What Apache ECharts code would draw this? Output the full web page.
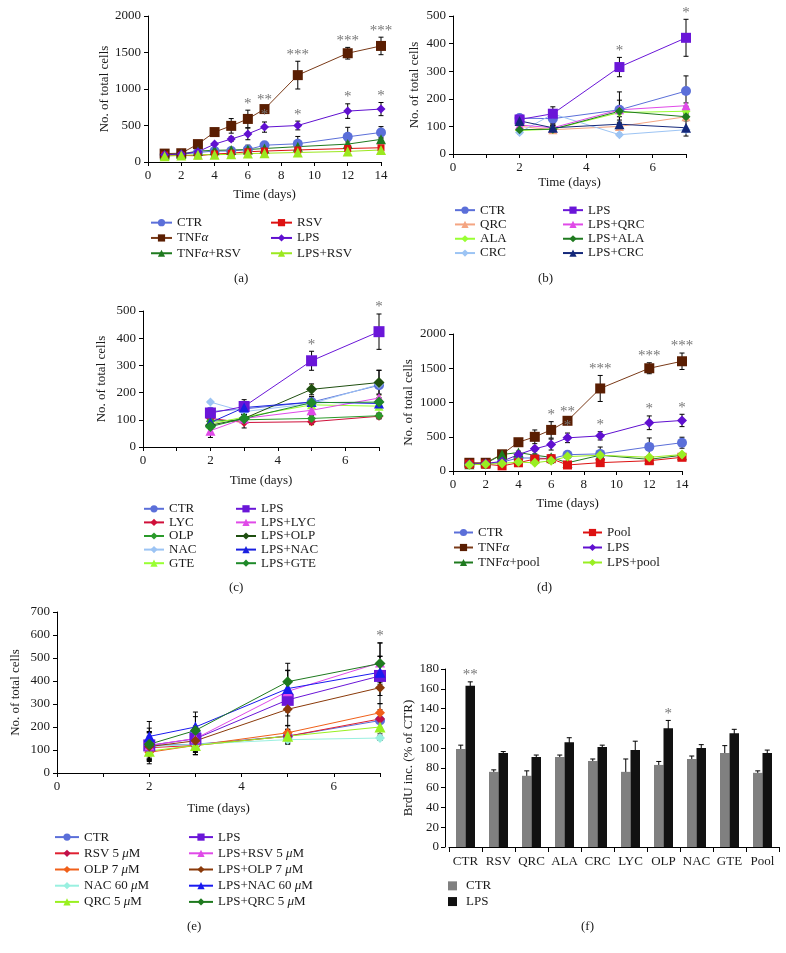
<!DOCTYPE html>
<html><head><meta charset="utf-8">
<script src="https://cdn.jsdelivr.net/npm/echarts@6/dist/echarts.min.js"></script>
<style>html,body{margin:0;padding:0;background:#fff}#c{width:786px;height:953px}</style>
</head><body><div id="c"></div>
<script>
// ---------- Panel (a) ----------
const daysA = [1,2,3,4,5,6,7,9,12,14];
const aCTR = [100,105,130,150,150,170,230,250,345,405];
const aCTRErr = [10,15,20,25,40,60,40,100,130,80];
const aTNF = [115,120,245,410,495,590,725,1190,1490,1590];
const aTNFErr = [20,20,30,30,100,120,30,190,80,120];
const aTNFRSV = [100,110,150,160,165,170,185,210,245,310];
const aTNFRSVErr = [10,10,20,20,20,20,20,20,30,30];
const aRSV = [95,90,85,110,120,140,150,165,185,195];
const aRSVErr = [10,10,10,15,15,15,15,20,20,20];
const aLPS = [100,110,140,245,315,385,478,500,697,725];
const aLPSErr = [10,10,20,20,30,80,70,60,100,90];
const aLPSRSV = [80,90,100,100,105,115,120,130,145,165];
const aLPSRSVErr = [10,10,10,10,15,15,15,15,20,20];
const aStarsTNF = ['','','','','','*','**','***','***','***'];
const aStarsLPS = ['','','','','','','*','*','*','*'];

// ---------- Panel (b) ----------
const daysB = [2,3,5,7];
const bCTR = [130,128,160,228];     const bCTRErr = [10,25,65,55];
const bQRC = [100,88,100,135];      const bQRCErr = [10,10,10,10];
const bALA = [85,90,150,155];       const bALAErr = [5,10,15,10];
const bCRC = [78,145,70,88];        const bCRCErr = [5,10,5,5];
const bLPS = [125,146,315,421];     const bLPSErr = [10,25,35,67];
const bLPSQRC = [105,95,160,175];   const bLPSQRCErr = [10,10,10,10];
const bLPSALA = [88,90,155,135];    const bLPSALAErr = [10,15,40,15];
const bLPSCRC = [120,95,108,95];    const bLPSCRCErr = [10,15,15,30];
const bStarsLPS = ['','','*','*'];

// ---------- Panel (c) ----------
const daysC = [2,3,5,7];
const cCTR = [130,140,165,227];     const cCTRErr = [10,20,20,55];
const cLYC = [105,90,93,113];       const cLYCErr = [10,20,10,10];
const cOLP = [95,100,105,115];      const cOLPErr = [10,10,10,10];
const cNAC = [165,130,160,230];     const cNACErr = [5,10,15,15];
const cGTE = [85,110,155,150];      const cGTEErr = [10,15,75,40];
const cLPS = [125,149,317,424];     const cLPSErr = [15,25,35,65];
const cLPSLYC = [60,105,135,180];   const cLPSLYCErr = [25,15,15,15];
const cLPSOLP = [80,105,212,237];   const cLPSOLPErr = [10,15,20,45];
const cLPSNAC = [90,145,165,160];   const cLPSNACErr = [10,15,20,20];
const cLPSGTE = [75,105,163,165];   const cLPSGTEErr = [10,15,15,15];
const cStarsLPS = ['','','*','*'];

// ---------- Panel (d) ----------
const daysD = [1,2,3,4,5,6,7,9,12,14];
const dCTR = [100,100,130,190,190,180,238,250,352,413];
const dCTRErr = [10,10,20,30,40,60,40,100,130,80];
const dTNF = [120,120,244,420,499,600,733,1205,1500,1602];
const dTNFErr = [20,20,30,30,100,120,30,190,80,120];
const dTNFpool = [100,110,240,270,230,200,120,230,170,230];
const dTNFpoolErr = [10,10,20,20,20,20,20,20,20,20];
const dPool = [100,100,75,120,175,180,88,122,150,200];
const dPoolErr = [10,10,10,15,15,15,15,20,20,20];
const dLPS = [100,110,140,240,323,386,484,513,704,738];
const dLPSErr = [10,10,20,20,30,80,70,60,100,90];
const dLPSpool = [90,100,110,130,120,150,210,230,200,240];
const dLPSpoolErr = [10,10,10,10,15,40,15,15,20,20];
const dStarsTNF = ['','','','','','*','**','***','***','***'];
const dStarsLPS = ['','','','','','','*','*','*','*'];

// ---------- Panel (e) ----------
const daysE = [2,3,5,7];
const eCTR = [120,125,160,228];     const eCTRErr = [55,45,30,35];
const eRSV = [110,120,160,235];     const eRSVErr = [50,40,30,40];
const eOLP = [90,120,175,262];      const eOLPErr = [50,40,30,40];
const eNAC = [115,125,145,152];     const eNACErr = [40,35,20,10];
const eQRC = [95,120,160,200];      const eQRCErr = [45,40,25,30];
const eLPS = [120,149,318,422];     const eLPSErr = [60,55,70,85];
const eLPSRSV = [120,150,355,480];  const eLPSRSVErr = [60,50,90,85];
const eLPSOLP = [115,140,277,371];  const eLPSOLPErr = [60,50,70,70];
const eLPSNAC = [159,200,367,438];  const eLPSNACErr = [65,65,80,70];
const eLPSQRC = [125,185,397,476];  const eLPSQRCErr = [70,60,80,90];
const eStarsLPSRSV = ['','','','*'];

// ---------- Panel (f) ----------
const fCats = ['CTR','RSV','QRC','ALA','CRC','LYC','OLP','NAC','GTE','Pool'];
const fCTR = [99,76,72,91,87,76,83,89,95,75];
const fCTRErr = [4,2,5,2,2,13,3.5,3,7.5,2];
const fLPS = [163,95,91,106,101,98,120,100,115,95];
const fLPSErr = [4,1.5,2,4.5,2,9,8,3.5,4,3];
const fStarsLPS = ['**','','','','','','*','','',''];

// ================= builders =================
const FONT = '"Liberation Serif", "Times New Roman", serif';
const grids = [], xAxes = [], yAxes = [], series = [], legends = [], titles = [];
const TXT = '#1a1a1a';

function axisCommon() {
  return {
    axisLine: {show: true, onZero: false, lineStyle: {color: '#000', width: 1}},
    axisTick: {show: true, inside: false, length: 4, lineStyle: {color: '#000', width: 1}},
    splitLine: {show: false},
    nameTextStyle: {fontFamily: FONT, fontSize: 13, color: TXT},
  };
}

function addPanel(p) {
  const gi = grids.length;
  grids.push({left: p.left, top: p.top, width: p.width, height: p.height, containLabel: false, outerBoundsMode: 'none'});
  xAxes.push(Object.assign(axisCommon(), {
    gridIndex: gi, type: 'value', min: 0, max: p.xMax, interval: p.xInterval,
    name: 'Time (days)', nameLocation: 'middle', nameGap: p.xNameGap,
    axisLabel: {margin: 7, color: TXT, fontFamily: FONT, fontSize: 13,
      formatter: v => (v % p.xLabelEvery === 0 ? String(v) : '')}
  }));
  yAxes.push(Object.assign(axisCommon(), {
    gridIndex: gi, type: 'value', min: 0, max: p.yMax, interval: p.yInterval,
    name: 'No. of total cells', nameLocation: 'middle', nameGap: p.yNameGap, nameRotate: 90,
    axisLabel: {margin: 7, color: TXT, fontFamily: FONT, fontSize: 13, formatter: v => String(v)}
  }));
  return gi;
}

function errSeries(gi, data, color, cap, dx) {
  color = color || '#000'; cap = cap || 2.5; dx = dx || 0;
  return {
    type: 'custom', xAxisIndex: gi, yAxisIndex: gi, data: data, silent: true, z: 2, clip: false,
    encode: {x: 0, y: 1},
    renderItem: function (params, api) {
      const x = api.value(0), y = api.value(1), e = api.value(2);
      const t = api.coord([x, y + e]), b = api.coord([x, y - e]);
      const tx = t[0] + dx;
      const st = {stroke: color, lineWidth: 1};
      return {type: 'group', children: [
        {type: 'line', shape: {x1: tx, y1: t[1], x2: tx, y2: b[1]}, style: st},
        {type: 'line', shape: {x1: tx - cap, y1: t[1], x2: tx + cap, y2: t[1]}, style: st},
        {type: 'line', shape: {x1: tx - cap, y1: b[1], x2: tx + cap, y2: b[1]}, style: st}
      ]};
    }
  };
}

function starSeries(gi, xs, vals, errs, stars, dx) {
  dx = dx || 0;
  const items = [];
  xs.forEach((d, i) => { if (stars[i]) items.push([d, vals[i] + errs[i], i]); });
  return {
    type: 'custom', xAxisIndex: gi, yAxisIndex: gi, data: items, silent: true, clip: false, z: 5,
    encode: {x: 0, y: 1},
    renderItem: function (params, api) {
      const p = api.coord([api.value(0), api.value(1)]);
      return {type: 'text', x: p[0] + dx, y: p[1] + 1,
        style: {text: stars[api.value(2)], fill: '#777', font: '15px ' + FONT,
          align: 'center', verticalAlign: 'bottom', textAlign: 'center', textVerticalAlign: 'bottom'}};
    }
  };
}

function addLine(gi, id, d, days) {
  const name = id + ':' + d.label;
  series.push({
    type: 'line', name: name, xAxisIndex: gi, yAxisIndex: gi,
    data: days.map((x, i) => [x, d.vals[i]]),
    symbol: d.symbol, symbolSize: d.size, showSymbol: true, clip: false, z: 3,
    itemStyle: {color: d.color, borderWidth: 0},
    lineStyle: {color: d.line || d.color, width: 1}
  });
  series.push(errSeries(gi, days.map((x, i) => [x, d.vals[i], d.errs[i]]), d.errColor));
  return name;
}

function fmtLegend(n) {
  return n.slice(n.indexOf(':') + 1).replace(/([αμ])/g, '{it|$1}');
}

function addLegend(names, left, top, lh, iw, ih, extra) {
  legends.push(Object.assign({
    data: names, orient: 'vertical', left: left, top: top, padding: 0, itemGap: 0,
    itemWidth: iw, itemHeight: ih, selectedMode: false, formatter: fmtLegend,
    textStyle: {fontFamily: FONT, fontSize: 13, color: TXT, lineHeight: lh,
      rich: {it: {fontFamily: FONT, fontSize: 13, fontStyle: 'italic', color: TXT, lineHeight: lh}}}
  }, extra || {}));
}

function addTitle(text, left, top) {
  titles.push({text: text, left: left, top: top, padding: 0,
    textStyle: {fontFamily: FONT, fontSize: 13, fontWeight: 'normal', color: TXT}});
}

function buildLinePanel(id, gi, days, defs, leftCount, leg) {
  const names = defs.map(d => addLine(gi, id, d, days));
  addLegend(names.slice(0, leftCount), leg.l1, leg.top, leg.lh, leg.iw, 9);
  addLegend(names.slice(leftCount), leg.l2, leg.top, leg.lh, leg.iw, 9);
}

// ---- (a)
const gA = addPanel({left: 148, top: 16, width: 233, height: 146, xMax: 14, xInterval: 2, xLabelEvery: 2,
  yMax: 2000, yInterval: 500, xNameGap: 26, yNameGap: 35});
buildLinePanel('a', gA, daysA, [
  {label: 'CTR', vals: aCTR, errs: aCTRErr, symbol: 'circle', size: 10, color: '#5b6fd9'},
  {label: 'TNFα', vals: aTNF, errs: aTNFErr, symbol: 'rect', size: 10, color: '#5a1e02', line: '#7a3a18'},
  {label: 'TNFα+RSV', vals: aTNFRSV, errs: aTNFRSVErr, symbol: 'triangle', size: 10, color: '#1f7a1f'},
  {label: 'RSV', vals: aRSV, errs: aRSVErr, symbol: 'rect', size: 7, color: '#dd1111'},
  {label: 'LPS', vals: aLPS, errs: aLPSErr, symbol: 'diamond', size: 9, color: '#6010d0'},
  {label: 'LPS+RSV', vals: aLPSRSV, errs: aLPSRSVErr, symbol: 'triangle', size: 10, color: '#9be81f'}
], 3, {l1: 150, l2: 270, top: 215, lh: 15.3, iw: 21});
series.push(starSeries(gA, daysA, aTNF, aTNFErr, aStarsTNF));
series.push(starSeries(gA, daysA, aLPS, aLPSErr, aStarsLPS));
addTitle('(a)', 234, 272);

// ---- (b)
const gB = addPanel({left: 453, top: 16, width: 233, height: 138, xMax: 7, xInterval: 1, xLabelEvery: 2,
  yMax: 500, yInterval: 100, xNameGap: 22, yNameGap: 32});
buildLinePanel('b', gB, daysB, [
  {label: 'CTR', vals: bCTR, errs: bCTRErr, symbol: 'circle', size: 10, color: '#5b6fd9'},
  {label: 'QRC', vals: bQRC, errs: bQRCErr, symbol: 'triangle', size: 9, color: '#f4a582'},
  {label: 'ALA', vals: bALA, errs: bALAErr, symbol: 'diamond', size: 9, color: '#99ff33'},
  {label: 'CRC', vals: bCRC, errs: bCRCErr, symbol: 'diamond', size: 9, color: '#9cc4f4'},
  {label: 'LPS', vals: bLPS, errs: bLPSErr, symbol: 'rect', size: 10, color: '#6a16d8'},
  {label: 'LPS+QRC', vals: bLPSQRC, errs: bLPSQRCErr, symbol: 'triangle', size: 9, color: '#e04ae8'},
  {label: 'LPS+ALA', vals: bLPSALA, errs: bLPSALAErr, symbol: 'diamond', size: 9, color: '#1f7a1f'},
  {label: 'LPS+CRC', vals: bLPSCRC, errs: bLPSCRCErr, symbol: 'triangle', size: 10, color: '#14287a'}
], 4, {l1: 454, l2: 562, top: 203, lh: 14.3, iw: 20});
series.push(starSeries(gB, daysB, bLPS, bLPSErr, bStarsLPS));
addTitle('(b)', 538, 272);

// ---- (c)
const gC = addPanel({left: 143, top: 311, width: 236, height: 136, xMax: 7, xInterval: 1, xLabelEvery: 2,
  yMax: 500, yInterval: 100, xNameGap: 27, yNameGap: 35});
buildLinePanel('c', gC, daysC, [
  {label: 'CTR', vals: cCTR, errs: cCTRErr, symbol: 'circle', size: 10, color: '#5b6fd9'},
  {label: 'LYC', vals: cLYC, errs: cLYCErr, symbol: 'diamond', size: 9, color: '#d0103a'},
  {label: 'OLP', vals: cOLP, errs: cOLPErr, symbol: 'diamond', size: 9, color: '#2a9a2a'},
  {label: 'NAC', vals: cNAC, errs: cNACErr, symbol: 'diamond', size: 9, color: '#9cc4f4'},
  {label: 'GTE', vals: cGTE, errs: cGTEErr, symbol: 'triangle', size: 9, color: '#99ff33', errColor: '#e8d890'},
  {label: 'LPS', vals: cLPS, errs: cLPSErr, symbol: 'rect', size: 11, color: '#6a16d8'},
  {label: 'LPS+LYC', vals: cLPSLYC, errs: cLPSLYCErr, symbol: 'triangle', size: 10, color: '#e04ae8'},
  {label: 'LPS+OLP', vals: cLPSOLP, errs: cLPSOLPErr, symbol: 'diamond', size: 11, color: '#1f4f10'},
  {label: 'LPS+NAC', vals: cLPSNAC, errs: cLPSNACErr, symbol: 'triangle', size: 10, color: '#1a20e0'},
  {label: 'LPS+GTE', vals: cLPSGTE, errs: cLPSGTEErr, symbol: 'diamond', size: 11, color: '#1f8a2a'}
], 5, {l1: 143, l2: 235, top: 502, lh: 13.6, iw: 20});
series.push(starSeries(gC, daysC, cLPS, cLPSErr, cStarsLPS));
addTitle('(c)', 229, 581);

// ---- (d)
const gD = addPanel({left: 453, top: 334, width: 229, height: 137, xMax: 14, xInterval: 2, xLabelEvery: 2,
  yMax: 2000, yInterval: 500, xNameGap: 26, yNameGap: 38});
buildLinePanel('d', gD, daysD, [
  {label: 'CTR', vals: dCTR, errs: dCTRErr, symbol: 'circle', size: 10, color: '#5b6fd9'},
  {label: 'TNFα', vals: dTNF, errs: dTNFErr, symbol: 'rect', size: 10, color: '#5a1e02', line: '#7a3a18'},
  {label: 'TNFα+pool', vals: dTNFpool, errs: dTNFpoolErr, symbol: 'triangle', size: 10, color: '#1f7a1f'},
  {label: 'Pool', vals: dPool, errs: dPoolErr, symbol: 'rect', size: 9, color: '#dd1111'},
  {label: 'LPS', vals: dLPS, errs: dLPSErr, symbol: 'diamond', size: 10, color: '#6010d0'},
  {label: 'LPS+pool', vals: dLPSpool, errs: dLPSpoolErr, symbol: 'diamond', size: 10, color: '#99ee22'}
], 3, {l1: 453, l2: 582, top: 525, lh: 15, iw: 19});
series.push(starSeries(gD, daysD, dTNF, dTNFErr, dStarsTNF));
series.push(starSeries(gD, daysD, dLPS, dLPSErr, dStarsLPS));
addTitle('(d)', 537, 581);

// ---- (e)
const gE = addPanel({left: 57, top: 612, width: 323, height: 161, xMax: 7, xInterval: 1, xLabelEvery: 2,
  yMax: 700, yInterval: 100, xNameGap: 29, yNameGap: 35});
buildLinePanel('e', gE, daysE, [
  {label: 'CTR', vals: eCTR, errs: eCTRErr, symbol: 'circle', size: 10, color: '#5b6fd9'},
  {label: 'RSV 5 μM', vals: eRSV, errs: eRSVErr, symbol: 'diamond', size: 10, color: '#c0104a', line: '#e02030'},
  {label: 'OLP 7 μM', vals: eOLP, errs: eOLPErr, symbol: 'diamond', size: 10, color: '#f0601a'},
  {label: 'NAC 60 μM', vals: eNAC, errs: eNACErr, symbol: 'diamond', size: 10, color: '#99f0e0'},
  {label: 'QRC 5 μM', vals: eQRC, errs: eQRCErr, symbol: 'triangle', size: 11, color: '#99f020'},
  {label: 'LPS', vals: eLPS, errs: eLPSErr, symbol: 'rect', size: 12, color: '#6a16d8'},
  {label: 'LPS+RSV 5 μM', vals: eLPSRSV, errs: eLPSRSVErr, symbol: 'triangle', size: 10, color: '#e04ae8'},
  {label: 'LPS+OLP 7 μM', vals: eLPSOLP, errs: eLPSOLPErr, symbol: 'diamond', size: 10, color: '#8a3a0a'},
  {label: 'LPS+NAC 60 μM', vals: eLPSNAC, errs: eLPSNACErr, symbol: 'triangle', size: 11, color: '#1a1af0'},
  {label: 'LPS+QRC 5 μM', vals: eLPSQRC, errs: eLPSQRCErr, symbol: 'diamond', size: 11, color: '#1f7a1f'}
], 5, {l1: 54, l2: 188, top: 829, lh: 16.2, iw: 24});
series.push(starSeries(gE, daysE, eLPSRSV, eLPSRSVErr, eStarsLPSRSV));
addTitle('(e)', 187, 920);

// ---- (f)
const gF = grids.length;
grids.push({left: 449, top: 669, width: 330, height: 178, containLabel: false, outerBoundsMode: 'none'});
xAxes.push(Object.assign(axisCommon(), {
  gridIndex: gF, type: 'category', data: fCats, boundaryGap: true,
  axisTick: {show: true, alignWithLabel: false, length: 5, lineStyle: {color: '#000'}},
  axisLabel: {margin: 8, color: TXT, fontFamily: FONT, fontSize: 13, interval: 0}
}));
yAxes.push(Object.assign(axisCommon(), {
  gridIndex: gF, type: 'value', min: 0, max: 180, interval: 20, offset: 4,
  name: 'BrdU inc. (% of CTR)', nameLocation: 'middle', nameGap: 30, nameRotate: 90,
  axisLabel: {margin: 6, color: TXT, fontFamily: FONT, fontSize: 13}
}));
series.push({type: 'bar', name: 'f:CTR', xAxisIndex: gF, yAxisIndex: gF, data: fCTR,
  barWidth: 9.5, barGap: '0%', itemStyle: {color: '#808080'}, z: 2});
series.push({type: 'bar', name: 'f:LPS', xAxisIndex: gF, yAxisIndex: gF, data: fLPS,
  barWidth: 9.5, barGap: '0%', itemStyle: {color: '#111111'}, z: 2});
series.push(errSeries(gF, fCats.map((c, i) => [i, fCTR[i], fCTRErr[i]]), '#000', 2.5, -4.75));
series.push(errSeries(gF, fCats.map((c, i) => [i, fLPS[i], fLPSErr[i]]), '#000', 2.5, 4.75));
series.push(starSeries(gF, fCats.map((c, i) => i), fLPS, fLPSErr, fStarsLPS, 4.75));
addLegend(['f:CTR', 'f:LPS'], 448, 878, 15.7, 9, 9,
  {icon: 'rect'});
legends[legends.length - 1].textStyle.padding = [0, 0, 0, 4];
addTitle('(f)', 581, 920);

const chart = echarts.init(document.getElementById('c'), null, {renderer: 'canvas'});
chart.setOption({
  animation: false,
  backgroundColor: '#ffffff',
  textStyle: {fontFamily: FONT},
  title: titles, grid: grids, xAxis: xAxes, yAxis: yAxes, legend: legends, series: series,
  tooltip: {show: false}
});
</script>
</body></html>
